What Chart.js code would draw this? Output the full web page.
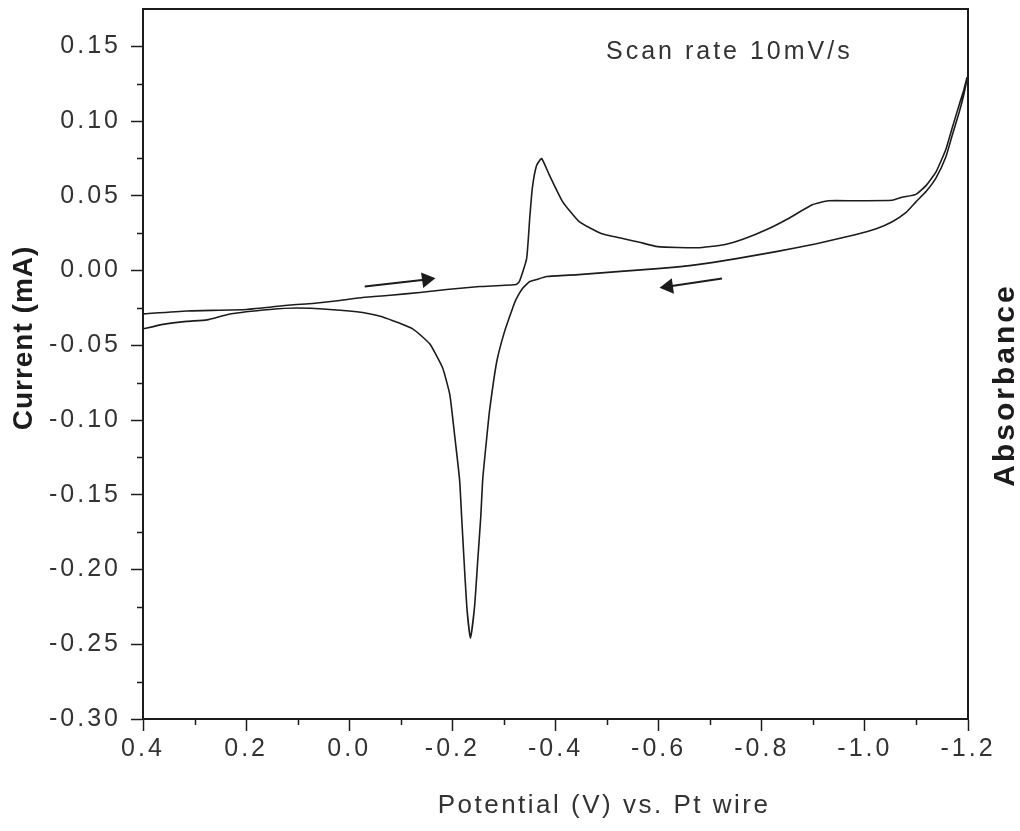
<!DOCTYPE html>
<html>
<head>
<meta charset="utf-8">
<title>Cyclic voltammogram</title>
<script src="https://cdn.jsdelivr.net/npm/chart.js@4.4.0/dist/chart.umd.min.js"></script>
<style>
    html, body { margin: 0; padding: 0; background: #ffffff; }
    #wrap { width: 1020px; height: 831px; }
</style>
</head>
<body>
<div id="wrap"><canvas id="cvChart"></canvas></div>
<script>
// forward scan (0.4 V -> -1.2 V)
const forwardPotential = [0.400, 0.315, 0.199, 0.115, 0.071, 0.018, -0.026, -0.080, -0.137, -0.189, -0.253, -0.324,
    -0.330, -0.344, -0.350, -0.355, -0.363, -0.373, -0.388, -0.414, -0.446, -0.481, -0.497, -0.559, -0.598, -0.675,
    -0.727, -0.766, -0.813, -0.851, -0.898, -0.929, -0.981, -1.053, -1.072, -1.099, -1.119, -1.138, -1.157, -1.169,
    -1.183, -1.192, -1.198];
const forwardCurrent = [-0.029, -0.027, -0.026, -0.023, -0.022, -0.020, -0.018, -0.0165, -0.0147, -0.0127, -0.0107, -0.0093,
    -0.0073, 0.008, 0.035, 0.055, 0.070, 0.075, 0.064, 0.046, 0.0327, 0.026, 0.024, 0.0193, 0.016, 0.0153,
    0.0173, 0.0213, 0.028, 0.0347, 0.044, 0.0467, 0.0467, 0.047, 0.049, 0.051, 0.057, 0.066, 0.081, 0.095,
    0.111, 0.121, 0.129];

// reverse scan (-1.2 V -> 0.4 V)
const reversePotential = [-1.192, -1.183, -1.169, -1.157, -1.138, -1.119, -1.099, -1.080, -1.053, -1.022, -0.981, -0.906,
    -0.828, -0.751, -0.675, -0.598, -0.520, -0.445, -0.383, -0.363, -0.350, -0.336, -0.324, -0.317, -0.301, -0.286,
    -0.272, -0.266, -0.259, -0.255, -0.249, -0.243, -0.235, -0.228, -0.222, -0.218, -0.214, -0.204, -0.195, -0.181,
    -0.156, -0.123, -0.065, -0.026, 0.038, 0.102, 0.154, 0.231, 0.276, 0.315, 0.361, 0.400];
const reverseCurrent = [0.118, 0.106, 0.090, 0.076, 0.062, 0.053, 0.046, 0.039, 0.0327, 0.028, 0.024, 0.018,
    0.0127, 0.008, 0.004, 0.0013, -0.0007, -0.0027, -0.004, -0.006, -0.0073, -0.012, -0.019, -0.025, -0.041, -0.061,
    -0.094, -0.114, -0.139, -0.165, -0.195, -0.225, -0.246, -0.225, -0.190, -0.165, -0.140, -0.109, -0.083, -0.065,
    -0.049, -0.039, -0.031, -0.028, -0.026, -0.025, -0.026, -0.029, -0.033, -0.034, -0.036, -0.039];

// scan direction arrows, tail then head
const arrowForwardPotential = [-0.030, -0.150];
const arrowForwardCurrent = [-0.0107, -0.0060];
const arrowReversePotential = [-0.723, -0.619];
const arrowReverseCurrent = [-0.0053, -0.0107];

const xTickValues = [0.4, 0.2, 0.0, -0.2, -0.4, -0.6, -0.8, -1.0, -1.2];
const yTickValues = [-0.30, -0.25, -0.20, -0.15, -0.10, -0.05, 0.00, 0.05, 0.10, 0.15];

const xTitle = 'Potential (V) vs. Pt wire';
const yTitle = 'Current (mA)';
const y2Title = 'Absorbance';
const noteText = 'Scan rate 10mV/s';

const INK = '#1c1c1c';
const TEXT = '#333333';
const FONT = '"Liberation Sans", Arial, sans-serif';

function toPoints(xs, ys) {
    return xs.map((x, i) => ({ x: x, y: ys[i] }));
}

function midpoints(values) {
    const out = [];
    for (let i = 0; i < values.length - 1; i++) {
        out.push((values[i] + values[i + 1]) / 2);
    }
    return out;
}

const cvPoints = toPoints(forwardPotential, forwardCurrent).concat(toPoints(reversePotential, reverseCurrent));

const framePlugin = {
    id: 'frame',
    beforeDraw(chart) {
        chart.ctx.letterSpacing = '3px';
    },
    afterDraw(chart) {
        const ctx = chart.ctx;
        const area = chart.chartArea;
        const xs = chart.scales.x;
        const ys = chart.scales.y;

        ctx.save();
        ctx.strokeStyle = INK;
        ctx.lineWidth = 2;
        ctx.beginPath();
        ctx.moveTo(area.left, area.top);
        ctx.lineTo(area.right, area.top);
        ctx.lineTo(area.right, area.bottom);
        ctx.stroke();

        // minor ticks, outside
        ctx.lineWidth = 1.5;
        ctx.beginPath();
        midpoints(xTickValues).forEach(v => {
            const px = Math.round(xs.getPixelForValue(v)) + 0.5;
            ctx.moveTo(px, area.bottom);
            ctx.lineTo(px, area.bottom + 6);
        });
        midpoints(yTickValues).forEach(v => {
            const py = Math.round(ys.getPixelForValue(v)) + 0.5;
            ctx.moveTo(area.left, py);
            ctx.lineTo(area.left - 6, py);
        });
        ctx.stroke();

        ctx.fillStyle = TEXT;

        ctx.letterSpacing = '3px';
        ctx.font = '25px ' + FONT;
        ctx.textAlign = 'left';
        ctx.textBaseline = 'middle';
        ctx.fillText(noteText, 606, 52);

        ctx.letterSpacing = '2.5px';
        ctx.font = '26px ' + FONT;
        ctx.textAlign = 'center';
        ctx.fillText(xTitle, 604, 806);

        ctx.save();
        ctx.translate(24, 338);
        ctx.rotate(-Math.PI / 2);
        ctx.letterSpacing = '1px';
        ctx.font = 'bold 28px ' + FONT;
        ctx.fillStyle = INK;
        ctx.fillText(yTitle, 0, 0);
        ctx.restore();

        ctx.save();
        ctx.translate(1006, 385);
        ctx.rotate(-Math.PI / 2);
        ctx.letterSpacing = '3px';
        ctx.font = 'bold 30px ' + FONT;
        ctx.fillStyle = INK;
        ctx.fillText(y2Title, 0, 0);
        ctx.restore();

        ctx.restore();
    }
};

const ctx = document.getElementById('cvChart');

new Chart(ctx, {
    type: 'scatter',
    data: {
        datasets: [
            {
                label: 'CV',
                data: cvPoints,
                showLine: true,
                borderColor: INK,
                borderWidth: 1.6,
                pointRadius: 0,
                tension: 0.15
            },
            {
                label: 'forward',
                data: toPoints(arrowForwardPotential, arrowForwardCurrent),
                showLine: true,
                borderColor: INK,
                borderWidth: 2,
                pointRadius: [0, 7],
                pointStyle: 'triangle',
                rotation: [0, 82],
                pointBackgroundColor: INK,
                pointBorderColor: INK
            },
            {
                label: 'reverse',
                data: toPoints(arrowReversePotential, arrowReverseCurrent),
                showLine: true,
                borderColor: INK,
                borderWidth: 2,
                pointRadius: [0, 7],
                pointStyle: 'triangle',
                rotation: [0, 262],
                pointBackgroundColor: INK,
                pointBorderColor: INK
            }
        ]
    },
    options: {
        responsive: true,
        maintainAspectRatio: false,
        animation: false,
        devicePixelRatio: 1,
        layout: {
            padding: { left: 0, right: 52, top: 6, bottom: 0 }
        },
        plugins: {
            legend: { display: false },
            tooltip: { enabled: false }
        },
        scales: {
            x: {
                type: 'linear',
                reverse: true,
                min: -1.2,
                max: 0.4,
                afterBuildTicks: scale => {
                    scale.ticks = xTickValues.map(v => ({ value: v }));
                },
                afterFit: scale => {
                    scale.height = 112;
                    scale.paddingLeft = 0;
                    scale.paddingRight = 0;
                },
                grid: {
                    display: true,
                    drawOnChartArea: false,
                    drawTicks: true,
                    tickLength: 12,
                    tickColor: INK,
                    tickWidth: 1.5
                },
                border: { display: true, color: INK, width: 2 },
                ticks: {
                    autoSkip: false,
                    maxRotation: 0,
                    padding: 3,
                    color: TEXT,
                    font: { family: FONT, size: 25 },
                    callback: v => v.toFixed(1)
                }
            },
            y: {
                type: 'linear',
                min: -0.30,
                max: 0.175,
                afterBuildTicks: scale => {
                    scale.ticks = yTickValues.map(v => ({ value: v }));
                },
                afterFit: scale => {
                    scale.width = 143;
                    scale.paddingTop = 0;
                    scale.paddingBottom = 0;
                },
                grid: {
                    display: true,
                    drawOnChartArea: false,
                    drawTicks: true,
                    tickLength: 12,
                    tickColor: INK,
                    tickWidth: 1.5
                },
                border: { display: true, color: INK, width: 2 },
                ticks: {
                    padding: 10,
                    color: TEXT,
                    font: { family: FONT, size: 25 },
                    callback: v => v.toFixed(2)
                }
            }
        }
    },
    plugins: [framePlugin]
});
</script>
</body>
</html>
